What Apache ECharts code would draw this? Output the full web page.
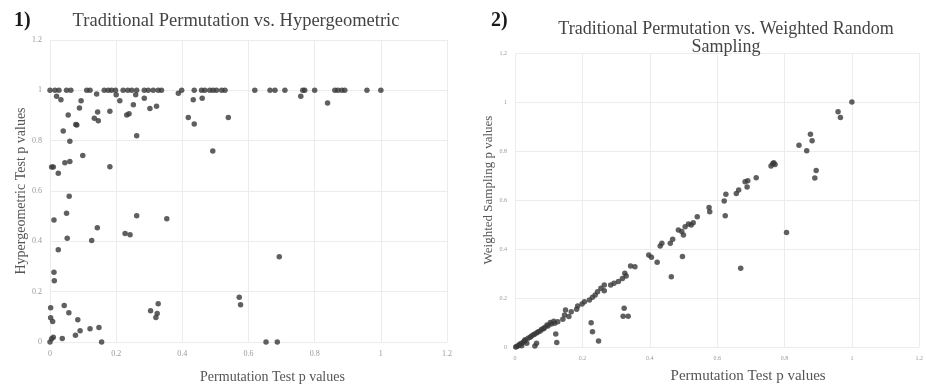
<!DOCTYPE html>
<html>
<head>
<meta charset="utf-8">
<script src="https://cdn.jsdelivr.net/npm/echarts@6/dist/echarts.min.js"></script>
<style>
  html, body { margin: 0; padding: 0; background: #fff; }
  #chart { width: 926px; height: 389px; }
</style>
</head>
<body>
<div id="chart"></div>
<script>
// 1) permutation p vs hypergeometric p
const hyperPoints = [
  [0.0, 1.0], [0.015, 1.0], [0.027, 1.0], [0.05, 1.0], [0.063, 1.0], [0.111, 1.0], [0.121, 1.0],
  [0.141, 0.985], [0.164, 1.0], [0.176, 1.0], [0.186, 1.0], [0.198, 1.0], [0.221, 1.0], [0.235, 1.0],
  [0.247, 1.0], [0.262, 1.0], [0.285, 1.0], [0.297, 1.0], [0.312, 1.0], [0.327, 1.0], [0.337, 1.0],
  [0.388, 0.988], [0.398, 1.0], [0.436, 1.0], [0.458, 1.0], [0.468, 1.0], [0.483, 1.0], [0.493, 1.0],
  [0.503, 1.0], [0.519, 1.0], [0.529, 1.0], [0.619, 1.0], [0.665, 1.0], [0.68, 1.0], [0.71, 1.0],
  [0.764, 1.0], [0.77, 1.0], [0.80, 1.0], [0.861, 1.0], [0.87, 1.0], [0.882, 1.0], [0.891, 1.0],
  [0.958, 1.0], [1.0, 1.0],
  [0.02, 0.976], [0.033, 0.963], [0.094, 0.959], [0.089, 0.93], [0.055, 0.902], [0.078, 0.864],
  [0.144, 0.914], [0.181, 0.917], [0.134, 0.889], [0.146, 0.879], [0.211, 0.959], [0.2, 0.982],
  [0.252, 0.943], [0.232, 0.902], [0.239, 0.907], [0.259, 0.982], [0.285, 0.969], [0.322, 0.937],
  [0.302, 0.928], [0.433, 0.963], [0.46, 0.969], [0.418, 0.892], [0.436, 0.866], [0.539, 0.892],
  [0.839, 0.95], [0.758, 0.976],
  [0.04, 0.838], [0.081, 0.862], [0.06, 0.798], [0.099, 0.741], [0.005, 0.695], [0.01, 0.695],
  [0.025, 0.671], [0.045, 0.712], [0.06, 0.717], [0.181, 0.696], [0.262, 0.82], [0.058, 0.579],
  [0.05, 0.512], [0.012, 0.485], [0.262, 0.502], [0.353, 0.49], [0.492, 0.759],
  [0.143, 0.454], [0.052, 0.412], [0.126, 0.403], [0.025, 0.367], [0.227, 0.431], [0.242, 0.426],
  [0.012, 0.277], [0.013, 0.243], [0.002, 0.136], [0.043, 0.145], [0.002, 0.096], [0.008, 0.081],
  [0.057, 0.116], [0.084, 0.088], [0.091, 0.045], [0.077, 0.027], [0.121, 0.053], [0.148, 0.058],
  [0.037, 0.014], [0.005, 0.013], [0.01, 0.019], [0.0, 0.0], [0.156, 0.0],
  [0.304, 0.124], [0.327, 0.152], [0.324, 0.113], [0.32, 0.097],
  [0.693, 0.339], [0.572, 0.178], [0.576, 0.148], [0.653, 0.0], [0.687, 0.0]
];

// 2) permutation p vs weighted random sampling p
const weightedPoints = [
  [1.0, 1.0], [0.959, 0.96], [0.966, 0.937], [0.877, 0.868], [0.882, 0.842], [0.843, 0.823],
  [0.866, 0.801], [0.894, 0.72], [0.89, 0.69], [0.768, 0.752], [0.76, 0.739], [0.772, 0.745],
  [0.765, 0.748], [0.716, 0.691], [0.691, 0.679], [0.683, 0.675], [0.689, 0.653], [0.664, 0.641],
  [0.657, 0.627], [0.626, 0.623], [0.621, 0.596], [0.624, 0.536], [0.576, 0.569], [0.578, 0.552],
  [0.541, 0.532], [0.529, 0.507], [0.523, 0.498], [0.806, 0.467], [0.67, 0.321],
  [0.515, 0.502], [0.505, 0.491], [0.495, 0.471], [0.5, 0.457], [0.485, 0.478], [0.468, 0.44],
  [0.461, 0.423], [0.436, 0.423], [0.431, 0.412], [0.497, 0.369], [0.397, 0.376], [0.405, 0.366],
  [0.422, 0.346], [0.464, 0.287], [0.343, 0.331], [0.356, 0.328], [0.326, 0.301], [0.33, 0.29],
  [0.319, 0.28], [0.307, 0.267], [0.294, 0.26], [0.284, 0.253], [0.265, 0.253], [0.265, 0.23],
  [0.255, 0.24], [0.245, 0.226], [0.238, 0.212], [0.23, 0.203], [0.221, 0.192], [0.206, 0.185],
  [0.199, 0.176], [0.186, 0.167], [0.183, 0.154], [0.167, 0.144], [0.16, 0.124], [0.15, 0.151],
  [0.147, 0.131], [0.142, 0.113], [0.127, 0.103], [0.118, 0.097], [0.108, 0.094], [0.098, 0.086],
  [0.088, 0.08], [0.079, 0.072], [0.069, 0.062], [0.059, 0.053], [0.049, 0.045], [0.039, 0.036],
  [0.029, 0.026], [0.02, 0.015], [0.01, 0.005], [0.002, 0.0], [0.064, 0.015], [0.059, 0.004],
  [0.121, 0.053], [0.124, 0.018], [0.226, 0.099], [0.23, 0.062], [0.248, 0.024],
  [0.324, 0.158], [0.321, 0.126], [0.336, 0.126],
  [0.005, 0.002], [0.012, 0.008], [0.015, 0.012], [0.025, 0.02], [0.03, 0.03], [0.045, 0.04],
  [0.055, 0.05], [0.065, 0.058], [0.075, 0.065], [0.085, 0.075], [0.095, 0.09], [0.105, 0.1],
  [0.115, 0.105], [0.02, 0.005], [0.035, 0.015]
];

const axisTicks = [0, 0.2, 0.4, 0.6, 0.8, 1, 1.2];

const serif = '"Liberation Serif", "DejaVu Serif", serif';
const dotColor = '#383838';
const gridColor = '#ececec';

const chart = echarts.init(document.getElementById('chart'));

const makeAxis = (gridIndex, labelSize, name, nameSize, nameGap, padding) => ({
  gridIndex,
  type: 'value',
  min: axisTicks[0],
  max: axisTicks[axisTicks.length - 1],
  interval: 0.2,
  name,
  nameLocation: 'middle',
  nameGap,
  nameTextStyle: { fontFamily: serif, fontSize: nameSize, color: '#555', padding },
  axisLine: { show: false },
  axisTick: { show: false },
  axisLabel: {
    fontFamily: serif,
    fontSize: labelSize,
    color: '#999',
    formatter: (v) => String(Math.round(v * 10) / 10)
  },
  splitLine: { show: true, lineStyle: { color: gridColor, width: 1 } }
});

const option = {
  backgroundColor: '#fff',
  animation: false,
  title: [
    { text: '1)', left: 9, top: 6, textStyle: { fontFamily: serif, fontSize: 20, fontWeight: 'bold', color: '#1a1a1a' } },
    { text: 'Traditional Permutation vs. Hypergeometric', left: 231, top: 7, textAlign: 'center',
      textStyle: { fontFamily: serif, fontSize: 18.5, fontWeight: 'normal', color: '#444' } },
    { text: '2)', left: 486, top: 6, textStyle: { fontFamily: serif, fontSize: 20, fontWeight: 'bold', color: '#1a1a1a' } },
    { text: 'Traditional Permutation vs. Weighted Random\nSampling', left: 721, top: 15, textAlign: 'center',
      textStyle: { fontFamily: serif, fontSize: 18, fontWeight: 'normal', color: '#444', lineHeight: 18 } }
  ],
  grid: [
    { left: 50, right: 479, top: 40, bottom: 38 },
    { left: 515, right: 3, top: 53, bottom: 42 }
  ],
  xAxis: [
    makeAxis(0, 8, 'Permutation Test p values', 14, 28, [0, 0, 0, 48]),
    makeAxis(1, 6, 'Permutation Test p values', 15, 22, [0, 0, 0, 62])
  ],
  yAxis: [
    makeAxis(0, 8, 'Hypergeometric Test p values', 14, 22, 0),
    makeAxis(1, 6, 'Weighted Sampling p values', 13, 20, [0, 0, 0, 20])
  ],
  series: [
    {
      type: 'scatter', xAxisIndex: 0, yAxisIndex: 0, data: hyperPoints,
      symbolSize: 5.5, itemStyle: { color: dotColor }
    },
    {
      type: 'scatter', xAxisIndex: 1, yAxisIndex: 1, data: weightedPoints,
      symbolSize: 5.5, itemStyle: { color: dotColor }
    }
  ]
};

chart.setOption(option);
window.addEventListener('resize', () => chart.resize());
</script>
</body>
</html>
